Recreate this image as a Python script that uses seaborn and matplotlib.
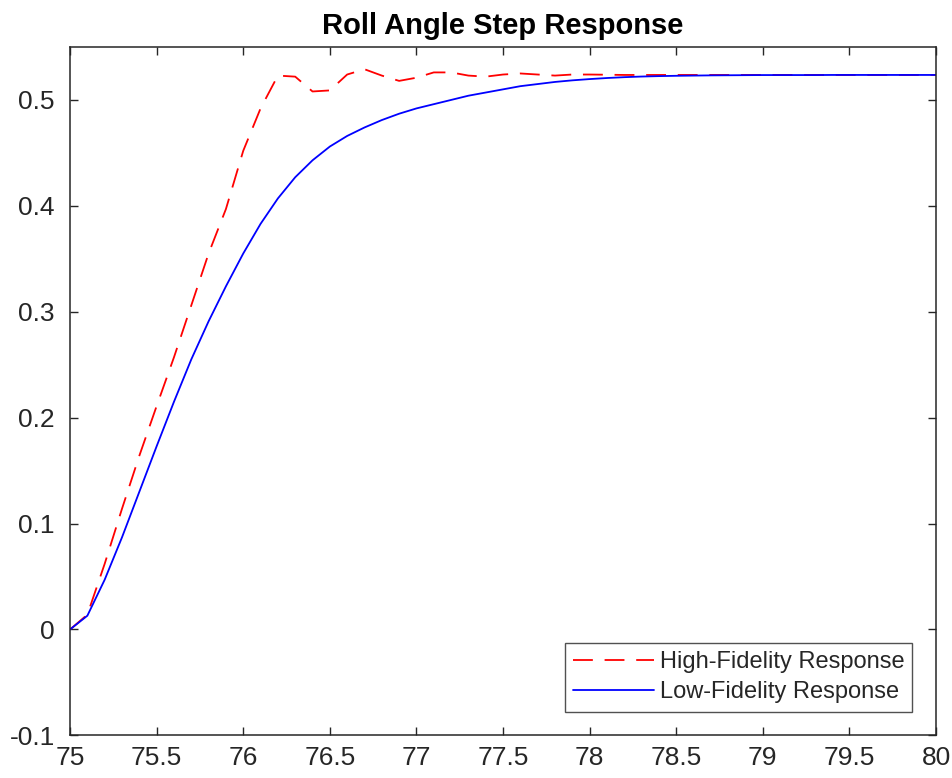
import numpy as np
import pandas as pd
import matplotlib
matplotlib.use('Agg')
import matplotlib.pyplot as plt
import seaborn as sns

# sample times (0.1 s grid)
time = np.round(np.linspace(75, 80, 51), 1)

# high-fidelity roll angle (rad)
hi_fid = [0.000, 0.014, 0.062, 0.114, 0.164, 0.211, 0.257, 0.306, 0.355, 0.397,
          0.452, 0.492, 0.523, 0.522, 0.508, 0.509, 0.524, 0.529, 0.523, 0.518,
          0.521, 0.526, 0.526, 0.523, 0.522, 0.524, 0.525, 0.524, 0.523, 0.524,
          0.524, 0.5238, 0.5236, 0.5236, 0.5236, 0.5236, 0.5236, 0.5236, 0.5236, 0.5236,
          0.5236, 0.5236, 0.5236, 0.5236, 0.5236, 0.5236, 0.5236, 0.5236, 0.5236, 0.5236,
          0.5236]

# low-fidelity roll angle (rad)
lo_fid = [0.000, 0.013, 0.047, 0.087, 0.130, 0.173, 0.215, 0.255, 0.291, 0.324,
          0.355, 0.383, 0.407, 0.427, 0.443, 0.456, 0.466, 0.474, 0.481, 0.487,
          0.492, 0.496, 0.500, 0.504, 0.507, 0.510, 0.513, 0.515, 0.517, 0.5185,
          0.5197, 0.5207, 0.5215, 0.5221, 0.5225, 0.5228, 0.523, 0.5232, 0.5233, 0.5234,
          0.5235, 0.5235, 0.5235, 0.5235, 0.5236, 0.5236, 0.5236, 0.5236, 0.5236, 0.5236,
          0.5236]

xticks = [75, 75.5, 76, 76.5, 77, 77.5, 78, 78.5, 79, 79.5, 80]
xtick_labels = ['75', '75.5', '76', '76.5', '77', '77.5', '78', '78.5', '79', '79.5', '80']
yticks = [-0.1, 0, 0.1, 0.2, 0.3, 0.4, 0.5]
ytick_labels = ['-0.1', '0', '0.1', '0.2', '0.3', '0.4', '0.5']

df = pd.DataFrame({'TIME': time, 'HIGH': hi_fid, 'LOW': lo_fid})

sns.set_style('white')
plt.rcParams['font.family'] = ['Liberation Sans', 'DejaVu Sans']

fig = plt.figure(figsize=(9.53, 7.78), dpi=100)
ax = fig.add_axes([0.0735, 0.0548, 0.9087, 0.8848])

sns.lineplot(data=df, x='TIME', y='HIGH', ax=ax, color='#ff0000', linewidth=1.3,
             label='High-Fidelity Response')
sns.lineplot(data=df, x='TIME', y='LOW', ax=ax, color='#0000ff', linewidth=1.3,
             label='Low-Fidelity Response')
ax.lines[0].set_dashes((11, 6.5))

ax.set_xlim(75, 80)
ax.set_ylim(-0.1, 0.55)
ax.set_xticks(xticks)
ax.set_xticklabels(xtick_labels)
ax.set_yticks(yticks)
ax.set_yticklabels(ytick_labels)
ax.set_xlabel('')
ax.set_ylabel('')

gray = '#262626'
for sp in ax.spines.values():
    sp.set_visible(True)
    sp.set_color(gray)
    sp.set_linewidth(1.1)
ax.tick_params(direction='in', length=5.8, width=1.0, color=gray, labelcolor=gray,
               labelsize=19, top=True, right=True, bottom=True, left=True)
ax.tick_params(axis='x', pad=8)
ax.tick_params(axis='y', pad=11)

ax.set_title('Roll Angle Step Response', fontsize=21, fontweight='bold', color='black', pad=9)

leg = ax.legend(loc='lower right', fontsize=17, frameon=True, fancybox=False,
                handlelength=3.4, borderaxespad=1.0, labelspacing=0.35,
                handletextpad=0.25, borderpad=0.35)
leg.get_frame().set_edgecolor(gray)
leg.get_frame().set_linewidth(1.0)
for t in leg.get_texts():
    t.set_color(gray)

plt.savefig('out.png', dpi=100)
